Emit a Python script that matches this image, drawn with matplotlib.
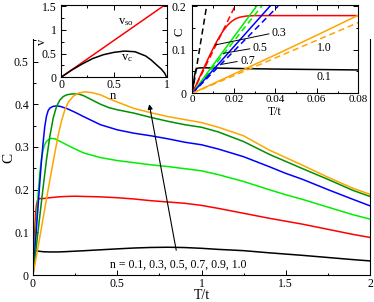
import matplotlib
matplotlib.use("Agg")
import matplotlib.pyplot as plt
from matplotlib.ticker import MultipleLocator

plt.rcParams['font.family'] = ['Liberation Serif', 'DejaVu Serif']
plt.rcParams['mathtext.fontset'] = 'custom'
plt.rcParams['mathtext.rm'] = 'Liberation Serif'
plt.rcParams['mathtext.it'] = 'Liberation Serif'

# ---------------- main panel data: C vs T/t ----------------
n_labels = ["0.1", "0.3", "0.5", "0.7", "0.9", "1.0"]
colors = ["black", "red", "#00ee00", "blue", "#009000", "orange"]

T_n01 = [0, 0.001, 0.002, 0.003, 0.005, 0.01, 0.03, 0.06, 0.1, 0.15, 0.2, 0.3, 0.4, 0.5, 0.6, 0.7, 0.8, 0.9, 1.0, 1.1, 1.25, 1.4, 1.5, 1.6, 1.75, 1.9, 2.0]
C_n01 = [0, 0.03, 0.05, 0.056, 0.058, 0.0575, 0.056, 0.0545, 0.054, 0.054, 0.0548, 0.0568, 0.059, 0.0612, 0.0632, 0.0645, 0.065, 0.0643, 0.0625, 0.06, 0.057, 0.052, 0.049, 0.046, 0.041, 0.036, 0.033]

T_n03 = [0, 0.005, 0.01, 0.015, 0.02, 0.025, 0.03, 0.04, 0.06, 0.1, 0.15, 0.2, 0.25, 0.3, 0.4, 0.5, 0.6, 0.7, 0.8, 0.9, 1.0, 1.1, 1.25, 1.4, 1.5, 1.6, 1.75, 1.9, 2.0]
C_n03 = [0, 0.05, 0.1, 0.142, 0.163, 0.173, 0.177, 0.179, 0.179, 0.181, 0.183, 0.184, 0.1845, 0.184, 0.183, 0.181, 0.178, 0.174, 0.171, 0.168, 0.163, 0.156, 0.1445, 0.133, 0.126, 0.119, 0.107, 0.095, 0.088]

T_n05 = [0, 0.01, 0.02, 0.03, 0.04, 0.05, 0.06, 0.07, 0.08, 0.095, 0.11, 0.13, 0.15, 0.2, 0.25, 0.3, 0.4, 0.5, 0.6, 0.7, 0.8, 0.9, 1.0, 1.1, 1.25, 1.4, 1.5, 1.6, 1.75, 1.9, 2.0]
C_n05 = [0, 0.064, 0.128, 0.188, 0.238, 0.272, 0.293, 0.306, 0.313, 0.318, 0.32, 0.319, 0.315, 0.305, 0.295, 0.286, 0.275, 0.268, 0.263, 0.258, 0.254, 0.249, 0.244, 0.235, 0.219, 0.200, 0.188, 0.177, 0.159, 0.141, 0.131]

T_n07 = [0, 0.01, 0.02, 0.03, 0.04, 0.05, 0.06, 0.07, 0.08, 0.09, 0.1, 0.12, 0.14, 0.16, 0.2, 0.25, 0.3, 0.4, 0.5, 0.6, 0.7, 0.8, 0.9, 1.0, 1.1, 1.25, 1.4, 1.5, 1.6, 1.75, 1.9, 2.0]
C_n07 = [0, 0.053, 0.107, 0.16, 0.215, 0.265, 0.31, 0.348, 0.372, 0.385, 0.391, 0.395, 0.396, 0.395, 0.39, 0.381, 0.371, 0.352, 0.34, 0.332, 0.326, 0.319, 0.311, 0.305, 0.295, 0.277, 0.254, 0.238, 0.224, 0.2, 0.177, 0.162]

T_n09 = [0, 0.02, 0.04, 0.06, 0.08, 0.1, 0.12, 0.14, 0.16, 0.18, 0.2, 0.23, 0.27, 0.3, 0.35, 0.4, 0.45, 0.5, 0.55, 0.6, 0.7, 0.8, 0.9, 1.0, 1.1, 1.25, 1.4, 1.5, 1.6, 1.75, 1.9, 2.0]
C_n09 = [0, 0.068, 0.137, 0.205, 0.27, 0.325, 0.368, 0.395, 0.41, 0.418, 0.422, 0.424, 0.424, 0.42, 0.41, 0.40, 0.392, 0.387, 0.383, 0.379, 0.369, 0.36, 0.352, 0.346, 0.335, 0.3125, 0.283, 0.266, 0.249, 0.224, 0.198, 0.184]

T_n10 = [0, 0.02, 0.05, 0.08, 0.1, 0.13, 0.15, 0.17, 0.19, 0.21, 0.24, 0.27, 0.31, 0.35, 0.4, 0.45, 0.5, 0.6, 0.7, 0.8, 0.9, 1.0, 1.1, 1.25, 1.4, 1.5, 1.6, 1.75, 1.9, 2.0]
C_n10 = [0, 0.044, 0.11, 0.178, 0.222, 0.287, 0.328, 0.362, 0.388, 0.405, 0.419, 0.426, 0.429, 0.427, 0.422, 0.413, 0.405, 0.39, 0.38, 0.371, 0.364, 0.357, 0.346, 0.326, 0.293, 0.275, 0.257, 0.229, 0.203, 0.189]

main_T = [T_n01, T_n03, T_n05, T_n07, T_n09, T_n10]
main_C = [C_n01, C_n03, C_n05, C_n07, C_n09, C_n10]

# ---------------- left inset: velocities vs n ----------------
n_so = [0, 1.0]
v_so = [0, 1.55]
n_c = [0, 0.1, 0.2, 0.3, 0.4, 0.5, 0.6, 0.7, 0.8, 0.85, 0.9, 0.95, 0.98, 1.0]
v_c = [0, 0.15, 0.28, 0.395, 0.475, 0.525, 0.552, 0.538, 0.45, 0.37, 0.27, 0.17, 0.09, 0.0]

# ---------------- right inset: low-T C ----------------
ins_T_black = [0, 0.0005, 0.001, 0.0015, 0.002, 0.003, 0.005, 0.02, 0.04, 0.06, 0.08]
ins_C_black = [0, 0.018, 0.038, 0.051, 0.056, 0.058, 0.0585, 0.057, 0.0555, 0.0545, 0.0535]
ins_T_red = [0, 0.004, 0.008, 0.011, 0.013, 0.015, 0.017, 0.019, 0.021, 0.023, 0.026, 0.03, 0.035, 0.04, 0.08]
ins_C_red = [0, 0.042, 0.083, 0.112, 0.129, 0.144, 0.156, 0.165, 0.171, 0.1745, 0.177, 0.178, 0.178, 0.178, 0.178]
ins_T_green = [0, 0.031]
ins_C_green = [0, 0.2]
ins_T_blue = [0, 0.0375]
ins_C_blue = [0, 0.2]
ins_T_orange = [0, 0.02, 0.04, 0.06, 0.08]
ins_C_orange = [0, 0.044, 0.088, 0.133, 0.179]
# linear (dashed) low-T asymptotes
lin_T_black = [0, 0.0069]
lin_C_black = [0, 0.2]
lin_T_red = [0, 0.0206]
lin_C_red = [0, 0.2]
lin_T_green = [0, 0.0335]
lin_C_green = [0, 0.2]
lin_T_blue = [0, 0.0414]
lin_C_blue = [0, 0.2]
lin_T_orange = [0, 0.08]
lin_C_orange = [0, 0.162]

W, H = 374, 302
fig = plt.figure(figsize=(W / 100, H / 100), dpi=100)

FS = 8.5
LW = 1.1


def style(ax, pad_x=2.5, pad_y=3):
    ax.tick_params(which='both', direction='in', labelsize=FS, width=0.7)
    ax.tick_params(which='major', length=3.6)
    ax.tick_params(which='minor', length=1.8)
    ax.tick_params(axis='x', pad=pad_x)
    ax.tick_params(axis='y', pad=pad_y)
    for s in ax.spines.values():
        s.set_linewidth(0.8)


def fig_axes(x0, y0, x1, y1):
    return fig.add_axes([x0 / W, 1 - y1 / H, (x1 - x0) / W, (y1 - y0) / H])


# main axes
ax = fig_axes(33, 39, 370, 275)
for Tv, Cv, c in zip(main_T, main_C, colors):
    ax.plot(Tv, Cv, color=c, lw=LW)
ax.set_xlim(0, 2)
ax.set_ylim(0, 0.5527)
ax.spines['top'].set_visible(False)
ax.xaxis.set_minor_locator(MultipleLocator(0.25))
ax.yaxis.set_minor_locator(MultipleLocator(0.05))
ax.set_xticks([0, 0.5, 1, 1.5, 2])
ax.set_xticklabels(["0", "0.5", "1", "1.5", "2"])
ax.set_yticks([0, 0.1, 0.2, 0.3, 0.4, 0.5])
ax.set_yticklabels(["0", "0.1", "0.2", "0.3", "0.4", "0.5"])
style(ax, pad_x=2, pad_y=3)
ax.set_xlabel("T/t", fontsize=10)
ax.xaxis.set_label_coords((202 - 33) / 337, (275 - 295.5) / 236)
ax.xaxis.label.set_va('center')
ax.set_ylabel("C", fontsize=11)
ax.yaxis.set_label_coords((9 - 33) / 337, (275 - 158) / 236)
ax.yaxis.label.set_va('center')

ax.text(0.86, 0.024, "n = " + ", ".join(n_labels), fontsize=FS, ha='center', va='center')
ax.annotate("", xy=(0.69, 0.40), xytext=(0.85, 0.058),
            arrowprops=dict(arrowstyle='-|>', color='black', lw=0.8,
                            mutation_scale=7, shrinkA=0, shrinkB=0))

# left inset
ax1 = fig_axes(61, 5, 166.7, 77.3)
ax1.plot(n_so, v_so, color='red', lw=LW)
ax1.plot(n_c, v_c, color='black', lw=LW)
ax1.set_xlim(0, 1)
ax1.set_ylim(0, 1.522)
ax1.set_xticks([0, 0.5, 1])
ax1.set_xticklabels(["0", "0.5", "1"])
ax1.set_yticks([0, 0.5, 1, 1.5])
ax1.set_yticklabels(["0", "0.5", "1", "1.5"])
ax1.xaxis.set_minor_locator(MultipleLocator(0.25))
ax1.yaxis.set_minor_locator(MultipleLocator(0.25))
style(ax1, pad_x=1.2, pad_y=3)
ax1.tick_params(which='both', top=True, right=True)
ax1.set_xlabel("n", fontsize=FS + 0.5)
ax1.xaxis.set_label_coords((113 - 61) / 105.7, (77.3 - 96) / 72.3)
ax1.xaxis.label.set_va('center')
ax1.set_ylabel("v", fontsize=FS + 0.5)
ax1.yaxis.set_label_coords((42 - 61) / 105.7, (77.3 - 42) / 72.3)
ax1.yaxis.label.set_va('center')
ax1.text(0.54, 1.16, r"v$_{\mathrm{so}}$", fontsize=FS + 0.5, ha='left', va='center')
ax1.text(0.565, 0.40, r"v$_{\mathrm{c}}$", fontsize=FS + 0.5, ha='left', va='center')

# right inset
ax2 = fig_axes(192.3, 5, 358.3, 93.3)
dash = [4, 2.5]
ax2.plot(ins_T_black, ins_C_black, color='black', lw=LW)
ax2.plot(lin_T_black, lin_C_black, color='black', lw=LW, dashes=dash)
ax2.plot(ins_T_red, ins_C_red, color='red', lw=LW)
ax2.plot(lin_T_red, lin_C_red, color='red', lw=LW, dashes=dash)
ax2.plot(ins_T_green, ins_C_green, color=colors[2], lw=LW)
ax2.plot(lin_T_green, lin_C_green, color=colors[2], lw=LW, dashes=dash)
ax2.plot(ins_T_blue, ins_C_blue, color='blue', lw=LW)
ax2.plot(lin_T_blue, lin_C_blue, color='blue', lw=LW, dashes=dash)
ax2.plot(ins_T_orange, ins_C_orange, color='orange', lw=LW)
ax2.plot(lin_T_orange, lin_C_orange, color='orange', lw=LW, dashes=dash)
ax2.set_xlim(0, 0.08)
ax2.set_ylim(0, 0.2023)
ax2.set_xticks([0, 0.02, 0.04, 0.06, 0.08])
ax2.set_xticklabels(["0", "0.02", "0.04", "0.06", "0.08"])
ax2.set_yticks([0, 0.1, 0.2])
ax2.set_yticklabels(["0", "0.1", "0.2"])
ax2.xaxis.set_minor_locator(MultipleLocator(0.01))
ax2.yaxis.set_minor_locator(MultipleLocator(0.05))
style(ax2, pad_x=1.0, pad_y=4)
ax2.tick_params(axis='x', labelsize=8)
ax2.tick_params(which='both', top=True, right=True)
ax2.set_xlabel("T/t", fontsize=8.5)
ax2.xaxis.set_label_coords(0.498, (93.3 - 111.5) / 88.3)
ax2.xaxis.label.set_va('center')
ax2.set_ylabel("C", fontsize=FS + 0.5)
ax2.yaxis.set_label_coords((180 - 192.3) / 166, (93.3 - 32) / 88.3)
ax2.yaxis.label.set_va('center')

ptr = dict(arrowstyle='-', color='black', lw=0.7, shrinkA=0, shrinkB=0, relpos=(0, 0.5))
ax2.annotate("0.3", xy=(0.01094, 0.1107), xytext=(0.0383, 0.1375), fontsize=FS,
             ha='left', va='center', arrowprops=ptr)
ax2.annotate("0.5", xy=(0.01494, 0.0916), xytext=(0.0291, 0.103), fontsize=FS,
             ha='left', va='center', arrowprops=ptr)
ax2.annotate("0.7", xy=(0.01417, 0.0664), xytext=(0.0230, 0.074), fontsize=FS,
             ha='left', va='center', arrowprops=ptr)
ax2.text(0.0600, 0.103, "1.0", fontsize=FS, ha='left', va='center')
ax2.text(0.0600, 0.0367, "0.1", fontsize=FS, ha='left', va='center')

fig.savefig("out.png", dpi=100)
